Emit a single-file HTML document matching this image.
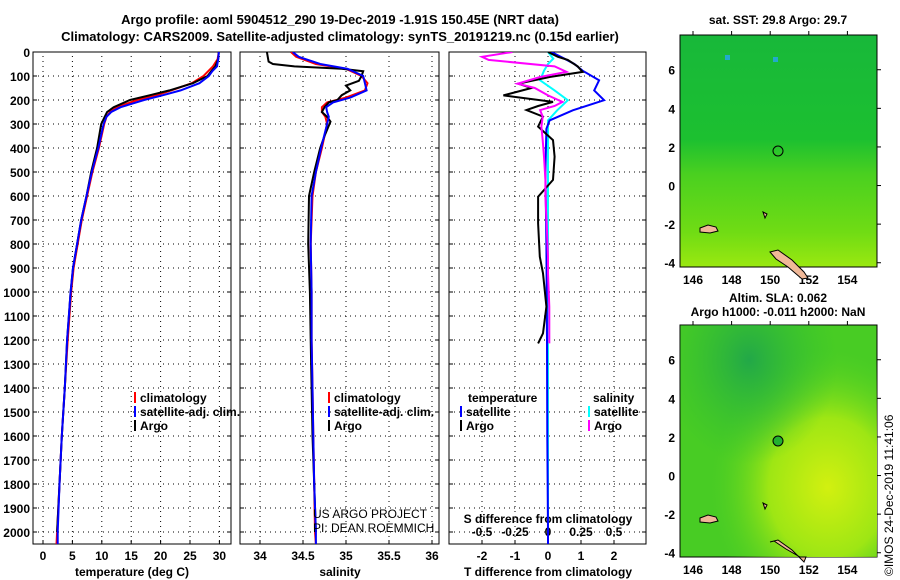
<!DOCTYPE html>
<html><head><meta charset="utf-8"><style>
html,body{margin:0;padding:0;background:#fff;}
svg{display:block;font-family:"Liberation Sans",sans-serif;}
.b{font-weight:bold;font-size:12px;}
</style></head><body>
<svg id="s" width="900" height="580" xmlns="http://www.w3.org/2000/svg">
<defs>
<clipPath id="c1"><rect x="33" y="52" width="198" height="492"/></clipPath>
<clipPath id="c2"><rect x="240" y="52" width="199" height="492"/></clipPath>
<clipPath id="c3"><rect x="449" y="52" width="197" height="492"/></clipPath>
<linearGradient id="sstg" x1="0" y1="0" x2="0" y2="1">
<stop offset="0" stop-color="#18b83a"/><stop offset="0.45" stop-color="#1cc030"/>
<stop offset="0.6" stop-color="#4ad020"/><stop offset="0.85" stop-color="#70dc14"/><stop offset="1" stop-color="#9ae810"/></linearGradient>
<radialGradient id="slag" cx="0.75" cy="0.7" r="0.6"><stop offset="0" stop-color="#d2f010"/><stop offset="0.5" stop-color="#9ee614"/><stop offset="1" stop-color="#50d024" stop-opacity="0"/></radialGradient>
<radialGradient id="slag2" cx="0.35" cy="0.15" r="0.45"><stop offset="0" stop-color="#22a848"/><stop offset="1" stop-color="#30c030" stop-opacity="0"/></radialGradient>
</defs>
<text x="340" y="24" text-anchor="middle" class="b" style="font-size:13px">Argo profile: aoml 5904512_290 19-Dec-2019 -1.91S 150.45E (NRT data)</text>
<text x="340" y="41" text-anchor="middle" class="b" style="font-size:13px">Climatology: CARS2009. Satellite-adjusted climatology: synTS_20191219.nc (0.15d earlier)</text>
<g id="g"></g>
<!-- maps -->
<g>
<text x="778" y="24" text-anchor="middle" class="b">sat. SST: 29.8 Argo: 29.7</text>
<rect x="680" y="35" width="197" height="232" fill="url(#sstg)" stroke="#000"/>
<rect x="725" y="55" width="5" height="5" fill="#22aacc"/><rect x="773" y="57" width="5" height="5" fill="#22aacc"/>
<path d="M700 228 l8 -3 8 2 2 4 -8 2 -10 -1z M770 252 l8 -2 14 10 12 12 4 6 -6 1 -14 -12 -12 -8z M763 212 l4 2 -2 4z" fill="#f0b898" stroke="#000"/>
<circle cx="778" cy="151" r="5" fill="none" stroke="#000"/>
</g>
<g>
<text x="778" y="302" text-anchor="middle" class="b">Altim. SLA: 0.062</text>
<text x="778" y="316" text-anchor="middle" class="b">Argo h1000: -0.011 h2000: NaN</text>
<rect x="680" y="325" width="197" height="232" fill="#48cc24" stroke="#000"/>
<rect x="680" y="325" width="197" height="232" fill="url(#slag)"/>
<rect x="680" y="325" width="197" height="232" fill="url(#slag2)"/>
<path d="M700 518 l8 -3 8 2 2 4 -8 2 -10 -1z M770 542 l8 -2 14 10 12 12 2 -5 -6 0 -14 -8 -12 -8z M763 503 l4 2 -2 4z" fill="#f0b898" stroke="#000"/>
<circle cx="778" cy="441" r="5" fill="#22b030" stroke="#000"/>
</g>
<text transform="translate(893,576) rotate(-90)" font-size="12">©IMOS 24-Dec-2019 11:41:06</text>
<text x="313" y="518" font-size="12">US ARGO PROJECT</text>
<text x="313" y="532" font-size="12">PI: DEAN ROEMMICH</text>
</svg>
<script>
const depthTicks=[0,100,200,300,400,500,600,700,800,900,1000,1100,1200,1300,1400,1500,1600,1700,1800,1900,2000];
const tempTicks=[0,5,10,15,20,25,30];
const salTicks=[34,34.5,35,35.5,36];
const tdTicks=[-2,-1,0,1,2];
const sdTicks=[-0.5,-0.25,0,0.25,0.5];
const latTicks=[6,4,2,0,-2,-4];
const lonTicks=[146,148,150,152,154];
// temperature
const tDepthArgo=[0,30,60,80,100,130,160,180,200,230,250,270,300,400,500,600,700,800,900,1000,1100,1200,1400,1600,1800,2000];
const tArgo=[29.9,29.8,29.3,28.6,28.0,25.5,21.5,18.2,14.8,12.0,10.9,10.5,9.9,9.2,8.2,7.4,6.5,5.8,5.1,4.7,4.4,4.1,3.7,3.2,2.8,2.4];
const tDepthClim=[0,30,60,80,100,130,160,180,200,230,250,270,300,400,500,600,700,800,900,1000,1200,1400,1600,1800,2000,2050];
const tClim=[29.9,29.7,28.9,28.1,27.3,25.3,21.8,19.3,16.0,12.6,11.4,10.8,10.4,9.5,8.4,7.5,6.6,5.9,5.2,4.8,4.2,3.7,3.2,2.8,2.4,2.3];
const tSat=[29.9,29.8,29.6,28.8,28.2,26.6,23.4,20.4,17.2,13.2,11.6,10.8,10.3,9.4,8.3,7.4,6.5,5.8,5.1,4.7,4.1,3.7,3.2,2.8,2.5,2.5];
// salinity
const sDepthArgo=[0,40,50,60,70,80,100,120,140,160,180,200,210,230,250,270,290,350,400,500,600,800,1000,1200,1400,1600,1800,2000];
const sArgo=[34.08,34.1,34.15,34.4,34.95,35.2,35.18,35.15,35.0,35.05,34.95,34.9,34.8,34.75,34.72,34.78,34.82,34.75,34.7,34.63,34.57,34.56,34.58,34.59,34.6,34.61,34.63,34.65];
const sDepthClim=[0,20,50,70,100,130,160,190,210,230,250,270,300,400,500,600,800,1000,1200,1400,1600,1800,2000,2050];
const sClim=[34.36,34.42,34.65,35.0,35.18,35.25,35.22,35.0,34.78,34.72,34.72,34.76,34.78,34.72,34.65,34.61,34.59,34.6,34.6,34.61,34.62,34.63,34.64,34.65];
const sSat=[34.38,34.45,34.7,35.02,35.2,35.22,35.24,35.05,34.85,34.77,34.78,34.8,34.78,34.71,34.65,34.6,34.59,34.6,34.6,34.61,34.62,34.63,34.65,34.65];
// differences
const dDepthArgo=[0,20,33,60,83,104,132,150,181,208,225,242,269,311,367,436,533,603,714,853,922,1061,1172,1214];
const tdArgo=[0.0,0.3,0.6,0.9,1.05,0.05,-0.9,-0.5,-1.35,0.15,-0.3,-0.65,-0.15,-0.3,0.15,0.2,0.15,-0.3,-0.3,-0.25,-0.15,-0.05,-0.15,-0.3];
const sdArgo=[-0.27,-0.5,-0.45,0.05,0.14,-0.06,-0.23,-0.1,0.0,0.11,0.05,-0.06,-0.04,-0.05,-0.04,-0.03,-0.02,-0.02,-0.01,0.0,0.0,0.01,0.01,0.01];
const dDepthSat=[0,28,50,78,118,160,201,243,285,320,500,800,1200,1600,2000,2050];
const tdSat=[0.1,0.5,0.8,1.05,1.55,1.4,1.7,0.75,0.05,-0.05,-0.08,-0.05,-0.03,-0.02,0,0];
const sdSat=[0.0,0.04,0.0,-0.03,-0.06,0.05,0.15,0.07,0.0,0.0,0.0,0.0,0.0,0.0,0.0,0.0];

const NS='http://www.w3.org/2000/svg';
const g=document.getElementById('g');
function mk(t,a,p){const e=document.createElementNS(NS,t);for(const k in a)e.setAttribute(k,a[k]);(p||g).appendChild(e);return e;}
const y=d=>52+d*0.24;
const xT=v=>43+v*5.88;
const xS=v=>346+(v-35)*86;
const xD=v=>548+v*33;
const xSD=v=>548+v*132;
const panels=[[33,198],[240,199],[449,197]];
panels.forEach((p,i)=>{
  const r=mk('rect',{x:p[0],y:52,width:p[1],height:492,fill:'none',stroke:'#000'});
  
  
  depthTicks.forEach(d=>{
    if(d>0){const l=mk('line',{x1:p[0],x2:p[0]+p[1],y1:y(d),y2:y(d),stroke:'#000','stroke-dasharray':'1,4'});
    
    }
    mk('line',{x1:p[0],x2:p[0]+4,y1:y(d),y2:y(d),stroke:'#000'});
    mk('line',{x1:p[0]+p[1]-4,x2:p[0]+p[1],y1:y(d),y2:y(d),stroke:'#000'});
  });
});
depthTicks.forEach(d=>{const t=mk('text',{x:30,y:y(d)+5,'text-anchor':'end',class:'b'});t.textContent=d;

});
function xticks(ticks,fx,ylab,cls){ticks.forEach(v=>{const x=fx(v);
 mk('line',{x1:x,x2:x,y1:56,y2:544,stroke:'#000','stroke-dasharray':'1,4'});
 mk('line',{x1:x,x2:x,y1:540,y2:544,stroke:'#000'});
 if(ylab){const t=mk('text',{x:x,y:ylab,'text-anchor':'middle',class:'b'});t.textContent=v;
 
 }});}
xticks(tempTicks,xT,560,'temperature-tick-label');
xticks(salTicks,xS,560,'salinity-tick-label');
xticks(tdTicks,xD,560,'t-diff-tick-label');
sdTicks.forEach(v=>{const t=mk('text',{x:xSD(v),y:536,'text-anchor':'middle',class:'b'});t.textContent=v;

});
[['temperature (deg C)',132],['salinity',340],['T difference from climatology',548]].forEach(a=>{
 const t=mk('text',{x:a[1],y:576,'text-anchor':'middle',class:'b'});t.textContent=a[0];
 
 });
const st=mk('text',{x:548,y:523,'text-anchor':'middle',class:'b'});st.textContent='S difference from climatology';


function line(ds,vs,fx,col,clip,name){
 const pts=ds.map((d,i)=>fx(vs[i]).toFixed(1)+','+y(d).toFixed(1)).join(' ');
 const e=mk('polyline',{points:pts,fill:'none',stroke:col,'stroke-width':2,'clip-path':'url(#'+clip+')'});
 
 }
line(tDepthClim,tClim,xT,'#f00','c1','temp-climatology-line');
line(tDepthArgo,tArgo,xT,'#000','c1','temp-argo-line');
line(tDepthClim,tSat,xT,'#00f','c1','temp-satellite-line');
line(sDepthClim,sClim,xS,'#f00','c2','sal-climatology-line');
line(sDepthArgo,sArgo,xS,'#000','c2','sal-argo-line');
line(sDepthClim,sSat,xS,'#00f','c2','sal-satellite-line');
line(dDepthSat,sdSat,xSD,'#0ff','c3','s-diff-satellite-line');
line(dDepthSat,tdSat,xD,'#00f','c3','t-diff-satellite-line');
line(dDepthArgo,tdArgo,xD,'#000','c3','t-diff-argo-line');
line(dDepthArgo,sdArgo,xSD,'#f0f','c3','s-diff-argo-line');
function leg(x,yy,col,txt){
 mk('rect',{x:x,y:yy-10,width:2,height:11,fill:col});
 const t=mk('text',{x:x+6,y:yy,class:'b'});t.textContent=txt;
 
 }
leg(134,402,'#f00','climatology');leg(134,416,'#00f','satellite-adj. clim.');leg(134,430,'#000','Argo');
leg(328,402,'#f00','climatology');leg(328,416,'#00f','satellite-adj. clim.');leg(328,430,'#000','Argo');
const lt=mk('text',{x:468,y:402,class:'b'});lt.textContent='temperature';


const ls=mk('text',{x:593,y:402,class:'b'});ls.textContent='salinity';


leg(460,416,'#00f','satellite');leg(460,430,'#000','Argo');
leg(588,416,'#0ff','satellite');leg(588,430,'#f0f','Argo');
// map axes
[[35,267],[325,557]].forEach(m=>{
 const ly=v=>m[0]+(7.8-v)*19.3;
 latTicks.forEach(v=>{const t=mk('text',{x:675,y:ly(v)+5,'text-anchor':'end',class:'b'});t.textContent=v;
  
  
  mk('line',{x1:877,x2:881,y1:ly(v),y2:ly(v),stroke:'#000'});});
 lonTicks.forEach(v=>{const x=693+(v-146)*19.3;
  const t=mk('text',{x:x,y:m[1]+17,'text-anchor':'middle',class:'b'});t.textContent=v;
  
  
  mk('line',{x1:x,x2:x,y1:m[0]-4,y2:m[0],stroke:'#000'});});
});
</script>
</body></html>
